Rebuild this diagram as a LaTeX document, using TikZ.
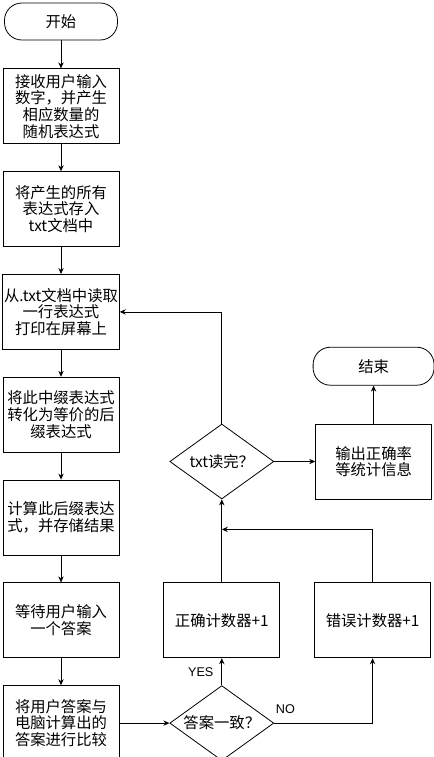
\documentclass[tikz,border=0pt]{standalone}
\usepackage{fontspec}
\setmainfont{Noto Sans CJK SC}
\newfontfamily\latinfont{Liberation Sans}
\usetikzlibrary{arrows.meta, positioning, shapes.geometric}

\begin{document}
\begin{tikzpicture}[
  x=0.75pt, y=-0.75pt,
  node distance=20.25pt,
  line width=0.6pt,
  font=\fontsize{11.5}{12.5}\selectfont,
  box/.style={rectangle, draw, minimum width=87pt, minimum height=56.25pt, inner xsep=1pt, align=center},
  term/.style={rectangle, draw, rounded corners=13pt, minimum width=84.75pt, minimum height=27.75pt, align=center},
  decision/.style={diamond, draw, aspect=1.39, minimum width=78pt, minimum height=56.25pt, inner sep=0pt, align=center},
  arrow/.style={-{Stealth[length=4.5pt, width=4pt]}},
  lbl/.style={font=\latinfont\fontsize{9.5}{11}\selectfont, inner sep=1pt}
]
\useasboundingbox (0,0) rectangle (434,757);
\node[term] (start) at (61,21.5) {开始};
\node[box, below=21pt of start] (input) {接收用户输入\\数字，并产生\\相应数量的\\随机表达式};
\node[box, below=of input] (store) {将产生的所有\\表达式存入\\txt文档中};
\node[box, below=of store] (read) {从.txt文档中读取\\一行表达式\\打印在屏幕上};
\node[box, below=of read] (convert) {将此中缀表达式\\转化为等价的后\\缀表达式};
\node[box, below=of convert] (compute) {计算此后缀表达\\式，并存储结果};
\node[box, below=of compute] (wait) {等待用户输入\\一个答案};
\node[box, below=of wait] (compare) {将用户答案与\\电脑计算出的\\答案进行比较};
\node[decision, right=37.5pt of compare] (same) {答案一致？};
\node[box, above=of same] (correct) {正确计数器+1};
\node[box, right=25.5pt of correct] (wrong) {错误计数器+1};
\node[decision, above=62.25pt of correct] (check) {txt读完？};
\node[box, right=30.75pt of check] (stats) {输出正确率\\等统计信息};
\node[term, minimum width=90.75pt, minimum height=28.5pt, above=28.5pt of stats] (stop) {结束};
\coordinate[above=39.75pt of correct] (join);

\draw[arrow] (start) -- (input);
\draw[arrow] (input) -- (store);
\draw[arrow] (store) -- (read);
\draw[arrow] (read) -- (convert);
\draw[arrow] (convert) -- (compute);
\draw[arrow] (compute) -- (wait);
\draw[arrow] (wait) -- (compare);
\draw[arrow] (compare) -- (same);
\draw[arrow] (same) -- (correct) node[midway, left=5pt, lbl] {YES};
\draw[arrow] (same.east) -| (wrong.south) node[pos=0, anchor=south west, yshift=6pt, lbl] {NO};
\draw (correct.north) -- (join);
\draw[arrow] (wrong.north) |- (join);
\draw[arrow] (join) -- (check.south);
\draw[arrow] (check.north) |- (read.east);
\draw[arrow] (check) -- (stats);
\draw[arrow] (stats) -- (stop);
\end{tikzpicture}
\end{document}
